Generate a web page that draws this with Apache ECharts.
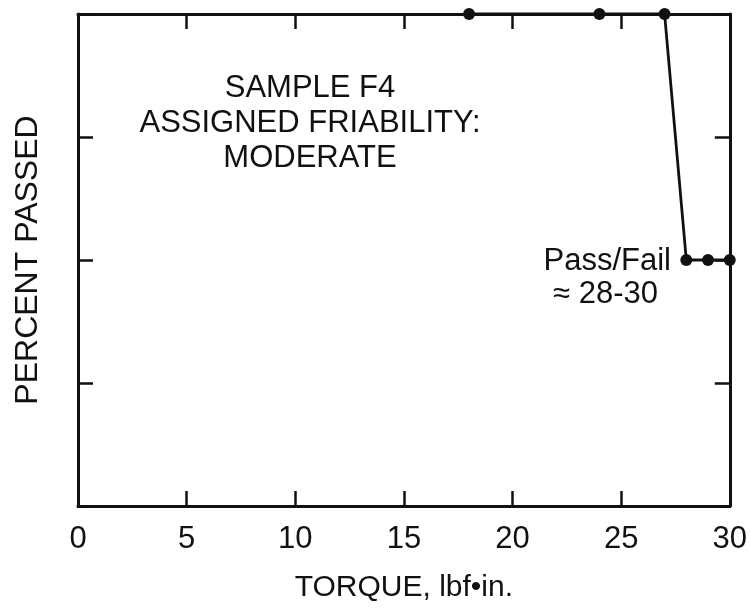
<!DOCTYPE html>
<html>
<head>
<meta charset="utf-8">
<script src="https://cdn.jsdelivr.net/npm/echarts@6/dist/echarts.min.js"></script>
<style>
  html, body { margin: 0; padding: 0; background: #fff; }
  #chart { width: 750px; height: 608px; }
</style>
</head>
<body>
<div id="chart"></div>
<script>
// Torque steps applied to sample F4 and the percentage of specimens that passed
const torque = [18, 24, 27, 28, 29, 30];
const percentPassed = [100, 100, 100, 50, 50, 50];
const xTicks = [0, 5, 10, 15, 20, 25, 30];
const annotation = ['SAMPLE F4', 'ASSIGNED FRIABILITY:', 'MODERATE'];
const passFailNote = ['Pass/Fail', '\u2248 28-30'];

const FONT = '"Liberation Sans", Arial, Helvetica, sans-serif';
const INK = '#111';

const chart = echarts.init(document.getElementById('chart'));

const frameLine = { show: true, onZero: false, lineStyle: { color: INK, width: 3 } };
const inTick = { show: true, inside: true, length: 15, lineStyle: { color: INK, width: 2.5 } };

function textEl(text, x, y, align, size) {
  return {
    type: 'text',
    style: {
      text: text, x: x, y: y,
      textAlign: align, textVerticalAlign: 'middle',
      fill: INK, font: size + 'px ' + FONT
    }
  };
}

chart.setOption({
  backgroundColor: '#fff',
  animation: false,
  grid: { left: 78, right: 18, top: 14, bottom: 101, containLabel: false },
  xAxis: [
    {
      type: 'value', min: xTicks[0], max: xTicks[xTicks.length - 1], interval: 5,
      position: 'bottom',
      axisLine: frameLine, axisTick: inTick, splitLine: { show: false },
      axisLabel: { show: true, margin: 33, verticalAlign: 'middle', color: INK, fontSize: 31, fontFamily: FONT },
      name: 'TORQUE, lbf\u2022in.', nameLocation: 'middle', nameGap: 82,
      nameTextStyle: { color: INK, fontSize: 30, fontFamily: FONT, verticalAlign: 'middle' }
    },
    {
      type: 'value', min: 0, max: 30, interval: 5, position: 'top',
      axisLine: frameLine, axisTick: inTick, splitLine: { show: false },
      axisLabel: { show: false }
    }
  ],
  yAxis: [
    {
      type: 'value', min: 0, max: 100, interval: 25, position: 'left',
      axisLine: frameLine, axisTick: inTick, splitLine: { show: false },
      axisLabel: { show: false },
      name: 'PERCENT PASSED', nameLocation: 'middle', nameGap: 50, nameRotate: 90,
      nameTextStyle: { color: INK, fontSize: 32, fontFamily: FONT, verticalAlign: 'middle' }
    },
    {
      type: 'value', min: 0, max: 100, interval: 25, position: 'right',
      axisLine: frameLine, axisTick: inTick, splitLine: { show: false },
      axisLabel: { show: false }
    }
  ],
  series: [{
    type: 'line',
    data: torque.map((t, i) => [t, percentPassed[i]]),
    clip: false,
    symbol: 'circle', symbolSize: 12,
    itemStyle: { color: INK },
    lineStyle: { color: INK, width: 2.8 }
  }],
  graphic: [
    textEl(annotation[0], 310, 88, 'center', 31),
    textEl(annotation[1], 310, 123, 'center', 31),
    textEl(annotation[2], 310, 158, 'center', 31),
    textEl(passFailNote[0], 671, 261, 'right', 31),
    textEl(passFailNote[1], 658, 294, 'right', 31)
  ]
});
</script>
</body>
</html>
